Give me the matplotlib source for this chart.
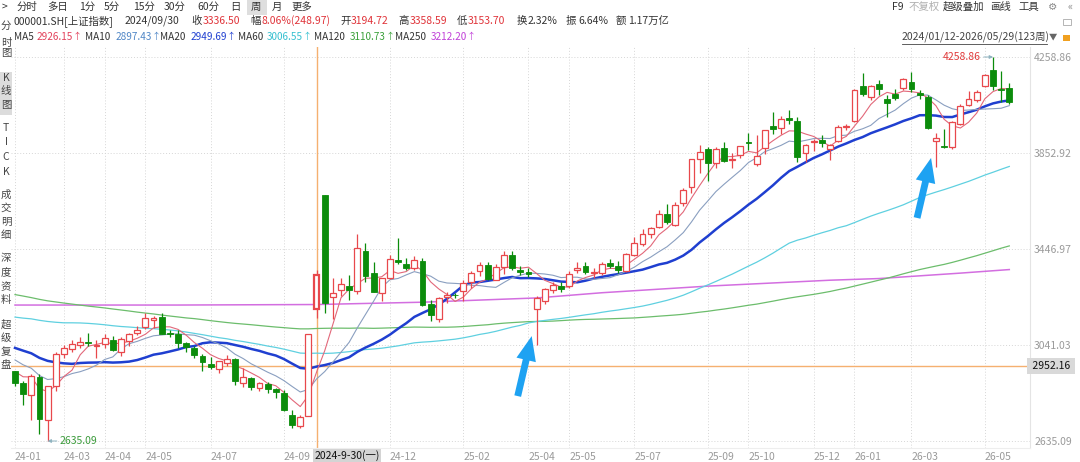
import matplotlib
matplotlib.use("Agg")
import matplotlib.pyplot as plt
from matplotlib.patches import Rectangle
from matplotlib.transforms import blended_transform_factory
import numpy as np

plt.rcParams['font.family'] = ['Noto Sans CJK SC', 'DejaVu Sans']

# ---------------- data ----------------
# weekly closes before the visible window (2021-09-03 .. 2024-01-05), used for the moving averages
prior_closes = [
    3581.73, 3703.11, 3613.97, 3613.07, 3568.17, 3591.71, 3572.37, 3582.60, 3547.34, 3491.57,
    3539.10, 3560.37, 3564.09, 3607.43, 3666.35, 3632.36, 3618.05, 3639.78,
    3579.54, 3521.26, 3522.57, 3361.44, 3462.95, 3490.76, 3451.41, 3447.65, 3309.75, 3251.07,
    3212.24, 3282.72, 3251.85, 3211.24, 3086.92, 3047.06, 3001.56, 3084.28, 3146.57, 3130.24,
    3195.46, 3284.83, 3316.79, 3349.75, 3387.64, 3356.08, 3228.06, 3269.97, 3253.24, 3227.03,
    3276.89, 3258.08, 3236.22, 3186.48, 3262.05, 3126.40, 3088.37, 3024.39, 3071.99, 3038.93,
    2915.93, 3070.80, 3087.29, 3097.24, 3101.69, 3156.14, 3206.95, 3167.86, 3045.87, 3089.26,
    3157.64, 3195.31, 3264.81, 3263.41, 3260.67, 3224.02, 3267.16, 3328.39, 3230.08, 3250.55,
    3265.65, 3272.86, 3327.65, 3338.15, 3301.26, 3323.28, 3350.46, 3272.36, 3283.54, 3212.50,
    3230.07, 3231.41, 3273.33, 3197.90, 3202.06, 3196.61, 3237.70, 3167.75, 3275.93, 3288.08,
    3189.25, 3131.95, 3064.07, 3133.25, 3116.72, 3117.74, 3132.43, 3110.48, 3088.10, 2983.06,
    3017.78, 3030.80, 3038.97, 3054.37, 3040.97, 3031.64, 2969.56, 2942.56, 2914.78, 2974.93,
    2929.18,
]

# visible weekly candles 2024/01/12 .. 2026/05/29 (123 weeks)
opens = [
    2929.0, 2879.0, 2830.0, 2907.0, 2724.0, 2866.0, 3003.0, 3025.0, 3039.0, 3055.0,
    3036.0, 3044.0, 3062.0, 3012.0, 3060.0, 3091.0, 3118.0, 3146.0, 3159.0, 3090.0,
    3088.0, 3049.0, 3030.0, 2996.0, 2960.0, 2941.0, 2965.0, 2982.0, 2882.0, 2902.0,
    2860.0, 2878.0, 2853.0, 2839.0, 2747.0, 2700.0, 2740.0, 3194.72, 3674.40, 3246.0,
    3275.0, 3290.0, 3271.0, 3440.0, 3345.0, 3262.0, 3325.0, 3400.0, 3385.0, 3366.0,
    3397.0, 3214.0, 3152.0, 3244.0, 3253.0, 3270.0, 3306.0, 3356.0, 3378.0, 3317.0,
    3370.0, 3423.0, 3360.0, 3349.0, 3193.0, 3229.0, 3272.0, 3292.0, 3292.0, 3357.0,
    3374.0, 3345.0, 3345.0, 3388.0, 3375.0, 3352.0, 3423.0, 3468.0, 3512.0, 3540.0,
    3594.0, 3548.0, 3640.0, 3710.0, 3829.0, 3870.0, 3811.0, 3874.0, 3822.0, 3845.0,
    3900.0, 3806.0, 3874.0, 3967.0, 3958.0, 4001.0, 3988.0, 3853.0, 3898.0, 3908.0,
    3870.0, 3903.0, 3963.0, 3988.0, 4136.0, 4090.0, 4145.0, 4081.0, 4102.0, 4128.0,
    4153.0, 4107.0, 4090.0, 3905.0, 3884.0, 3878.0, 3975.0, 4056.0, 4077.0, 4136.0,
    4204.0, 4122.0, 4128.0,
]
highs = [
    2931.0, 2888.0, 2918.0, 2919.0, 2868.0, 3011.0, 3041.0, 3063.0, 3074.0, 3090.6,
    3063.0, 3088.0, 3080.0, 3074.0, 3092.0, 3123.0, 3175.0, 3165.0, 3174.3, 3105.0,
    3103.0, 3055.0, 3037.0, 3005.0, 2990.0, 2975.0, 2998.0, 2985.0, 2945.0, 2905.0,
    2886.0, 2886.0, 2859.0, 2850.0, 2765.0, 2747.0, 3087.8, 3358.59, 3674.40, 3324.0,
    3325.0, 3336.0, 3509.0, 3474.0, 3390.0, 3326.0, 3421.0, 3494.9, 3410.0, 3418.0,
    3410.0, 3232.0, 3245.0, 3265.0, 3262.0, 3315.0, 3352.0, 3390.0, 3394.0, 3385.0,
    3439.0, 3440.0, 3375.0, 3368.0, 3250.0, 3281.0, 3306.0, 3306.0, 3352.0, 3391.9,
    3390.0, 3366.0, 3392.0, 3403.0, 3395.0, 3430.0, 3497.0, 3531.0, 3540.0, 3613.0,
    3636.0, 3645.0, 3704.0, 3826.0, 3888.6, 3880.0, 3878.0, 3900.0, 3853.0, 3883.0,
    3936.0, 3929.0, 3951.0, 4025.7, 4010.0, 4034.0, 4004.0, 3890.0, 3914.0, 3930.0,
    3892.0, 3970.0, 3975.0, 4125.0, 4191.0, 4142.0, 4160.0, 4100.0, 4125.0, 4172.0,
    4195.0, 4120.0, 4100.0, 3937.0, 3954.0, 3990.0, 4060.0, 4115.0, 4120.0, 4186.0,
    4258.86, 4200.0, 4150.0,
]
lows = [
    2867.0, 2786.0, 2724.5, 2666.3, 2635.09, 2846.0, 2985.0, 3010.0, 3030.0, 3036.0,
    2988.0, 3029.0, 3016.0, 2995.0, 3036.0, 3083.0, 3107.0, 3115.0, 3087.0, 3075.0,
    3028.0, 3012.0, 2987.0, 2933.0, 2938.0, 2922.0, 2953.0, 2871.0, 2865.0, 2850.0,
    2845.0, 2840.0, 2815.0, 2760.0, 2689.7, 2691.0, 2740.0, 3153.70, 3175.0, 3152.0,
    3250.0, 3230.0, 3256.0, 3308.0, 3266.0, 3225.0, 3321.0, 3385.0, 3357.0, 3360.0,
    3206.0, 3141.0, 3140.0, 3220.0, 3240.0, 3226.0, 3283.0, 3332.0, 3318.0, 3315.0,
    3342.0, 3358.0, 3339.0, 3328.0, 3040.69, 3215.0, 3262.0, 3267.0, 3284.0, 3344.0,
    3340.0, 3325.0, 3335.0, 3366.0, 3347.0, 3348.0, 3419.0, 3458.0, 3492.0, 3534.0,
    3552.0, 3545.0, 3628.0, 3682.0, 3770.0, 3733.0, 3790.0, 3815.0, 3788.0, 3830.0,
    3866.0, 3800.0, 3850.0, 3933.0, 3935.0, 3975.0, 3815.0, 3816.0, 3862.0, 3880.0,
    3823.0, 3898.0, 3952.0, 3982.0, 4092.0, 4075.0, 4100.0, 4005.0, 4075.0, 4120.0,
    4110.0, 4080.0, 3955.0, 3794.0, 3874.0, 3870.0, 3970.0, 4050.0, 4070.0, 4130.0,
    4119.0, 4069.0, 4060.0,
]
closes = [
    2881.98, 2832.28, 2910.22, 2730.15, 2865.90, 3004.88, 3027.02, 3046.02, 3054.64, 3048.03,
    3041.17, 3069.30, 3019.47, 3065.26, 3088.64, 3104.82, 3154.55, 3154.03, 3088.87, 3086.81,
    3051.28, 3032.63, 2998.14, 2967.40, 2949.93, 2971.30, 2982.31, 2890.90, 2905.34, 2862.19,
    2879.43, 2854.37, 2842.21, 2765.81, 2704.09, 2736.81, 3087.53, 3336.50, 3217.74, 3261.56,
    3299.70, 3272.01, 3452.30, 3330.73, 3267.19, 3326.46, 3404.08, 3391.88, 3368.07, 3400.14,
    3211.43, 3168.52, 3241.82, 3252.63, 3250.60, 3303.67, 3346.72, 3379.11, 3320.90, 3372.55,
    3419.56, 3364.83, 3351.31, 3342.01, 3238.23, 3276.73, 3295.06, 3279.03, 3342.00, 3367.46,
    3348.37, 3347.49, 3385.36, 3377.00, 3359.90, 3424.23, 3472.32, 3510.18, 3534.48, 3593.66,
    3559.95, 3635.13, 3696.77, 3825.76, 3857.93, 3812.51, 3870.60, 3820.09, 3828.11, 3882.78,
    3897.03, 3839.76, 3950.31, 3954.79, 3997.56, 3990.49, 3834.89, 3888.60, 3902.81, 3895.0,
    3887.0, 3963.0, 3968.0, 4121.0, 4102.0, 4136.0, 4123.0, 4064.0, 4085.0, 4166.0,
    4123.0, 4098.0, 3959.0, 3918.0, 3880.0, 3984.0, 4052.0, 4081.0, 4111.0, 4183.0,
    4136.0, 4118.0, 4069.0,
]

# MA250 at a few weeks
ma250_weeks = [0, 20, 37, 50, 64, 72, 85, 100, 106, 116, 122]
ma250_values = [3210, 3210, 3212.2, 3222, 3240, 3262, 3290, 3315, 3322, 3345, 3360]

tick_weeks = [0, 6, 11, 16, 24, 33, 46, 55, 63, 68, 76, 85, 90, 98, 103, 110, 119]
tick_labels = ['24-01', '24-03', '24-04', '24-05', '24-07', '24-09', '24-12', '25-02',
               '25-04', '25-05', '25-07', '25-09', '25-10', '25-12', '26-01', '26-03', '26-05']

cursor_week = 37
cursor_price = 2952.16
cursor_label = '2024-9-30(一)'
arrow_weeks = [64, 113]

# ---------------- figure ----------------
W, H = 1080, 462
fig = plt.figure(figsize=(W / 100, H / 100), dpi=100)
fig.patch.set_facecolor('white')


def fx(x):
    return x / W


def fy(y):
    return 1 - y / H


L, R, T, B = 11, 1030, 47, 448
ax = fig.add_axes([fx(L), fy(B), (R - L) / W, (B - T) / H])
hi = max(highs)
lo = min(lows)
k = (hi - lo) / (441 - 57)
ax.set_ylim(lo - (B - 441) * k, hi + (57 - T) * k)
x0, dx = 15, 8.15
ax.set_xlim((L - x0) / dx, (R - x0) / dx)

for s in ['top', 'left']:
    ax.spines[s].set_visible(False)
ax.spines['right'].set_color('#e4e4e4')
ax.spines['bottom'].set_color('#eeeeee')

levels = [lo + (hi - lo) * j / 4 for j in range(5)]
ax.set_yticks(levels)
ax.set_yticklabels([f'{v:.2f}' for v in levels])
ax.yaxis.tick_right()
ax.tick_params(axis='y', length=0, pad=3, labelsize=7.5, labelcolor='#9a9a9a')
for v in levels:
    ax.axhline(v, color='#d6d6d6', lw=0.7, ls=(0, (1, 2)), zorder=0)

ax.set_xticks(tick_weeks)
ax.set_xticklabels(tick_labels)
ax.tick_params(axis='x', length=0, pad=3, labelsize=7.5, labelcolor='#9a9a9a')
for lab in ax.get_xticklabels():
    lab.set_horizontalalignment('left')
for w in tick_weeks:
    ax.axvline(w, color='#d6d6d6', lw=0.7, ls=(0, (1, 2)), zorder=0)

# moving averages
allc = np.array(prior_closes + closes)
P = len(prior_closes)
n = len(closes)
idx = np.arange(n)


def ma(m):
    return np.array([allc[P + i - m + 1:P + i + 1].mean() for i in range(n)])


ax.plot(ma250_weeks, ma250_values, color='#d36ee0', lw=1.1, zorder=2)
ax.plot(idx, ma(120), color='#6cbd6c', lw=0.9, zorder=2)
ax.plot(idx, ma(60), color='#5fd0e0', lw=0.9, zorder=2)
ax.plot(idx, ma(20), color='#1f3fd0', lw=1.8, zorder=3)
ax.plot(idx, ma(10), color='#8a9fc0', lw=0.8, zorder=3)
ax.plot(idx, ma(5), color='#e2687a', lw=0.8, zorder=3)

# cursor lines
ax.axvline(cursor_week, color='#f5b070', lw=1.0, zorder=1)
ax.axhline(cursor_price, color='#f5b070', lw=1.0, zorder=1)

# candles
up_c = '#e8484c'
dn_c = '#0b8c0b'
bw = 0.72
for i in range(n):
    o, h, l, c = opens[i], highs[i], lows[i], closes[i]
    up = c >= o
    col = up_c if up else dn_c
    lw_e = 1.6 if i == cursor_week else 0.9
    ax.vlines(i, l, h, color=col, lw=0.9, zorder=4)
    bot = min(o, c)
    hgt = max(abs(c - o), k * 0.9)
    if up:
        ax.add_patch(Rectangle((i - bw / 2, bot), bw, hgt, facecolor='white',
                               edgecolor=col, lw=lw_e, zorder=5))
    else:
        ax.add_patch(Rectangle((i - bw / 2, bot), bw, hgt, facecolor=col,
                               edgecolor=col, lw=0.6, zorder=5))

# high / low labels
ih = int(np.argmax(highs))
il = int(np.argmin(lows))
ax.annotate(f'{hi:.2f}', xy=(ih, hi), xytext=(-12, 0), textcoords='offset pixels',
            ha='right', va='center', fontsize=7.5, color='#e03a3a',
            arrowprops=dict(arrowstyle='-|>', color='#8fb3c0', lw=0.7,
                            mutation_scale=5, shrinkA=0, shrinkB=0), zorder=6)
ax.annotate(f'{lo:.2f}', xy=(il, lo), xytext=(12, 0), textcoords='offset pixels',
            ha='left', va='center', fontsize=7.5, color='#3a9a3a',
            arrowprops=dict(arrowstyle='-|>', color='#8fb3c0', lw=0.7,
                            mutation_scale=5, shrinkA=0, shrinkB=0), zorder=6)

# blue hand-drawn arrows
for w in arrow_weeks:
    ax.annotate('', xy=(w - 0.6, lows[w] + 9 * k), xytext=(-14, -60),
                textcoords='offset pixels',
                arrowprops=dict(arrowstyle='simple,head_width=1.3,head_length=1.6,tail_width=0.45',
                                color='#1ea2f2', lw=0, shrinkA=0, shrinkB=0,
                                mutation_scale=11), zorder=7)

# cursor labels
tr_y = blended_transform_factory(ax.transAxes, ax.transData)
ax.text(1.0, cursor_price, f' {cursor_price:.2f} ', transform=tr_y, ha='left', va='center',
        fontsize=7.5, color='#111111',
        bbox=dict(boxstyle='square,pad=0.25', fc='#d9d9d9', ec='none'), zorder=8, clip_on=False)
tr_x = blended_transform_factory(ax.transData, ax.transAxes)
ax.text(cursor_week - 0.3, -0.0185, cursor_label, transform=tr_x, ha='left', va='center',
        fontsize=7.5, color='#111111',
        bbox=dict(boxstyle='square,pad=0.12', fc='#d4d4d4', ec='none'), zorder=8, clip_on=False)

# ---------------- header ----------------
dark = '#333333'
red = '#e0343a'
fs = 7.5


def t(x, y, s, color=dark, size=fs, **kw):
    fig.text(fx(x), fy(y), s, color=color, fontsize=size, va='center', ha='left', **kw)


# toolbar
fig.patches.append(Rectangle((fx(247), fy(15)), 20 / W, 15 / H, transform=fig.transFigure,
                             facecolor='#dedede', edgecolor='none'))
toolbar = [(2, '>'), (17, '分时'), (47, '多日'), (79, '1分'), (104, '5分'), (133, '15分'),
           (164, '30分'), (197, '60分'), (230, '日'), (251, '周'), (272, '月'), (291, '更多')]
for x, s in toolbar:
    t(x, 7, s)
t(892, 7, 'F9')
t(909, 7, '不复权', color='#b0b0b0')
t(943, 7, '超级叠加')
t(990, 7, '画线')
t(1018, 7, '工具')
t(1048, 7, '⚙', color='#888888')
t(1067, 7, '«', color='#888888')
fig.patches.append(Rectangle((fx(1063), fy(25)), 8 / W, 6 / H, transform=fig.transFigure,
                             facecolor='none', edgecolor='#aaaaaa', lw=0.6))

# quote line
quote = [(14, '000001.SH[上证指数]', dark), (125, '2024/09/30', dark),
         (191, '收', dark), (203, '3336.50', red), (250, '幅', dark), (262, '8.06%(248.97)', red),
         (340, '开', dark), (351, '3194.72', red), (398, '高', dark), (410, '3358.59', red),
         (457, '低', dark), (468, '3153.70', red), (517, '换', dark), (528, '2.32%', dark),
         (566, '振', dark), (578, '6.64%', dark), (616, '额', dark), (628, '1.17万亿', dark)]
for x, s, c in quote:
    t(x, 21, s, color=c)

# MA legend line
ma_line = [(14, 'MA5', dark, 37, '2926.15', '#e2405a'),
           (85, 'MA10', dark, 116, '2897.43', '#4f86c6'),
           (160, 'MA20', dark, 191, '2949.69', '#1f3fd0'),
           (238, 'MA60', dark, 267, '3006.55', '#36c0d0'),
           (314, 'MA120', dark, 350, '3110.73', '#3aa03a'),
           (395, 'MA250', dark, 431, '3212.20', '#c040d8')]
for xn, name, cn, xv, val, cv in ma_line:
    t(xn, 37, name, color=cn, size=7.2)
    t(xv, 37, val, color=cv, size=7.2)
    t(xv + 36, 37, '↑', color=cv, size=6.5)

t(902, 37, '2024/01/12-2026/05/29(123周)', color='#444444')
fig.add_artist(plt.Line2D([fx(902), fx(1047)], [fy(44), fy(44)], color='#444444', lw=0.6))
t(1049, 37, '▼', color='#666666', size=6)
fig.patches.append(Rectangle((fx(1063), fy(41)), 7 / W, 6 / H, transform=fig.transFigure,
                             facecolor='#f0a020', edgecolor='none'))

# left sidebar
fig.patches.append(Rectangle((0, fy(115)), 12 / W, 43 / H, transform=fig.transFigure,
                             facecolor='#dcdcdc', edgecolor='none'))
side = [(26, '分'), (43, '时'), (53, '图'), (78, 'K'), (91, '线'), (105, '图'),
        (128, 'T'), (142, 'I'), (157, 'C'), (172, 'K'),
        (195, '成'), (208, '交'), (222, '明'), (235, '细'),
        (258, '深'), (273, '度'), (287, '资'), (300, '料'),
        (325, '超'), (338, '级'), (352, '复'), (365, '盘')]
for y, s in side:
    fig.text(fx(6), fy(y), s, color='#444444', fontsize=7.5, ha='center', va='center')

fig.savefig('out.png', dpi=100, facecolor='white')
